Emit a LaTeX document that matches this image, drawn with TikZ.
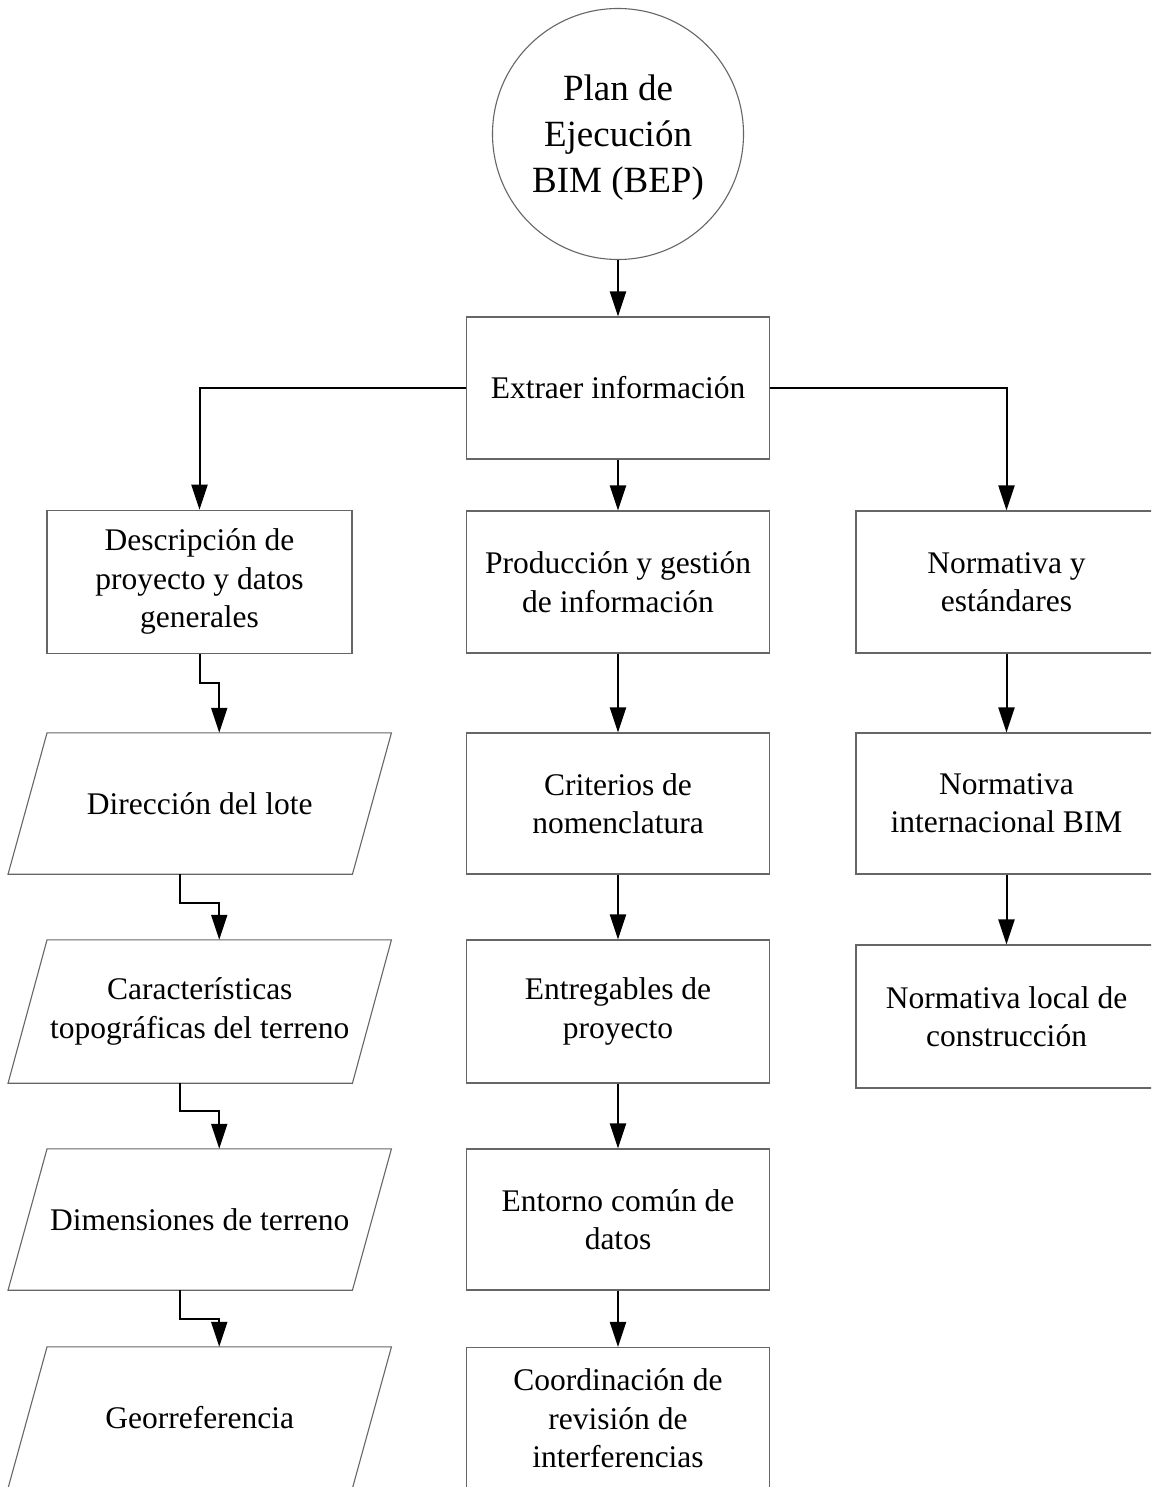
\documentclass[tikz,border=0pt]{standalone}
\usepackage{fontspec}
\setmainfont{Liberation Serif}
\usetikzlibrary{arrows.meta,calc}
\begin{document}
\begin{tikzpicture}[x=1pt,y=-1pt,
  shapeline/.style={draw=black!60,line width=1.1pt},
  txt/.style={font=\fontsize{31.5}{38.4}\selectfont,align=center,inner sep=0pt},
  box/.style={txt,shapeline,rectangle,minimum width=303pt,minimum height=142pt},
  parabox/.style={txt,rectangle,minimum width=383pt,minimum height=141pt},
  arr/.style={draw=black,line width=2pt,-{Triangle[length=25pt,width=16pt]}},
]
\useasboundingbox (0,0) rectangle (1151,1487);
\fill[white] (0,0) rectangle (1151,1487);
\clip (0,0) rectangle (1151,1487);

% top circle
\node[circle,draw=black!60,line width=1.1pt,minimum size=251pt,inner sep=0pt] (c) at (618,134) {};
\node[align=center,inner sep=0pt,font=\fontsize{37}{46}\selectfont] (ct) at (618,138) {Plan de\\Ejecución\\BIM (BEP)};

\node[box] (e) at (618,388) {Extraer información};

% row 1
\node[box,minimum width=305pt,minimum height=143pt] (l1) at (199.5,581.75) {Descripción de\\proyecto y datos\\generales};
\node[box] (m1) at (618,582) {Producción y gestión\\de información};
\node[box,minimum width=301pt] (r1) at (1006.5,582) {Normativa y\\estándares};

% middle column
\node[box,minimum height=141pt] (m2) at (618,803.5) {Criterios de\\nomenclatura};
\node[box,minimum height=143pt] (m3) at (618,1011.5) {Entregables de\\proyecto};
\node[box,minimum height=141pt] (m4) at (618,1219.5) {Entorno común de\\datos};
\node[box] (m5) at (618,1418.5) {Coordinación de\\revisión de\\interferencias};

% right column
\node[box,minimum width=301pt,minimum height=141pt] (r2) at (1006.5,803.5) {Normativa\\internacional BIM};
\node[box,minimum width=301pt,minimum height=143pt] (r3) at (1006.5,1016.5) {Normativa local de\\construcción};

% left column parallelograms
\node[parabox] (p1) at (199.75,803.5) {Dirección del lote};
\node[parabox,minimum height=143pt] (p2) at (199.75,1011.5) {Características\\topográficas del terreno};
\node[parabox] (p3) at (199.75,1219.5) {Dimensiones de terreno};
\node[parabox] (p4) at (199.75,1417.5) {Georreferencia};
\foreach \p in {p1,p2,p3,p4}{
  \draw[shapeline] ([xshift=39pt]\p.north west) -- (\p.north east)
     -- ([xshift=-39pt]\p.south east) -- (\p.south west) -- cycle;
}

% connectors
\draw[arr] (c.south) -- (e.north);
\draw[arr] (e.west) -| (l1.north);
\draw[arr] (e.east) -| (r1.north);
\draw[arr] (e.south) -- (m1.north);

\draw[arr] (m1.south) -- (m2.north);
\draw[arr] (m2.south) -- (m3.north);
\draw[arr] (m3.south) -- (m4.north);
\draw[arr] (m4.south) -- (m5.north);

\draw[arr] (r1.south) -- (r2.north);
\draw[arr] (r2.south) -- (r3.north);

\draw[arr] (l1.south) -- ++(0,29) -| ([xshift=19.5pt]p1.north);
\draw[arr] ([xshift=-19.5pt]p1.south) -- ++(0,29) -| ([xshift=19.5pt]p2.north);
\draw[arr] ([xshift=-19.5pt]p2.south) -- ++(0,28) -| ([xshift=19.5pt]p3.north);
\draw[arr] ([xshift=-19.5pt]p3.south) -- ++(0,29) -| ([xshift=19.5pt]p4.north);
\end{tikzpicture}
\end{document}
